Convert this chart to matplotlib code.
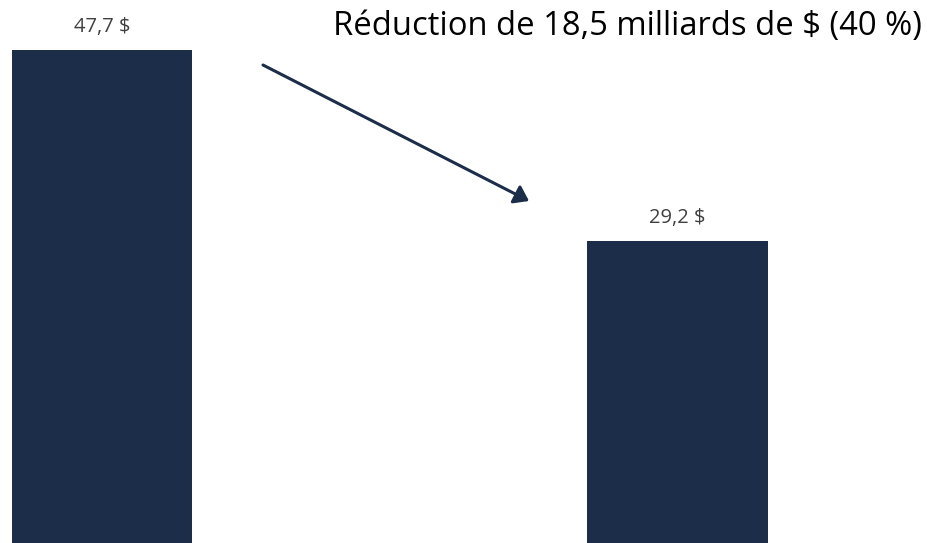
import matplotlib
matplotlib.use("Agg")
import matplotlib.pyplot as plt

# -------------------------------
# Data
# -------------------------------
categories = ["Avant", "Après"]
values = [47.7, 29.2]
value_labels = ["47,7 $", "29,2 $"]
headline = "Réduction de 18,5 milliards de $ (40 %)"

navy = "#1C2D4A"

plt.rcParams["font.family"] = ["Open Sans", "DejaVu Sans"]

fig = plt.figure(figsize=(9.27, 5.43), dpi=100)
ax = fig.add_axes([0, 0, 1, 1])

x = list(range(len(categories)))
ax.bar(x, values, width=0.313, color=navy)

# value labels above bars
for xi, v, lab in zip(x, values, value_labels):
    ax.text(xi, v + 1.75, lab, ha="center", va="baseline", fontsize=14.5, color="#404040")

ax.set_xlim(-0.177, 1.4335)
ax.set_ylim(0, 52.54)
ax.axis("off")

# headline and arrow
ax.text(0.994, 1 - 35 / 543, headline, transform=ax.transAxes, ha="right", va="baseline",
        fontsize=23.6, color="black")
ax.annotate("", xy=(529 / 927, 1 - 201 / 543), xycoords="axes fraction",
            xytext=(263 / 927, 1 - 65 / 543), textcoords="axes fraction",
            arrowprops=dict(arrowstyle="-|>,head_length=0.85,head_width=0.6",
                            color=navy, lw=2.2, shrinkA=0, shrinkB=0))

fig.savefig("out.png", dpi=100)
